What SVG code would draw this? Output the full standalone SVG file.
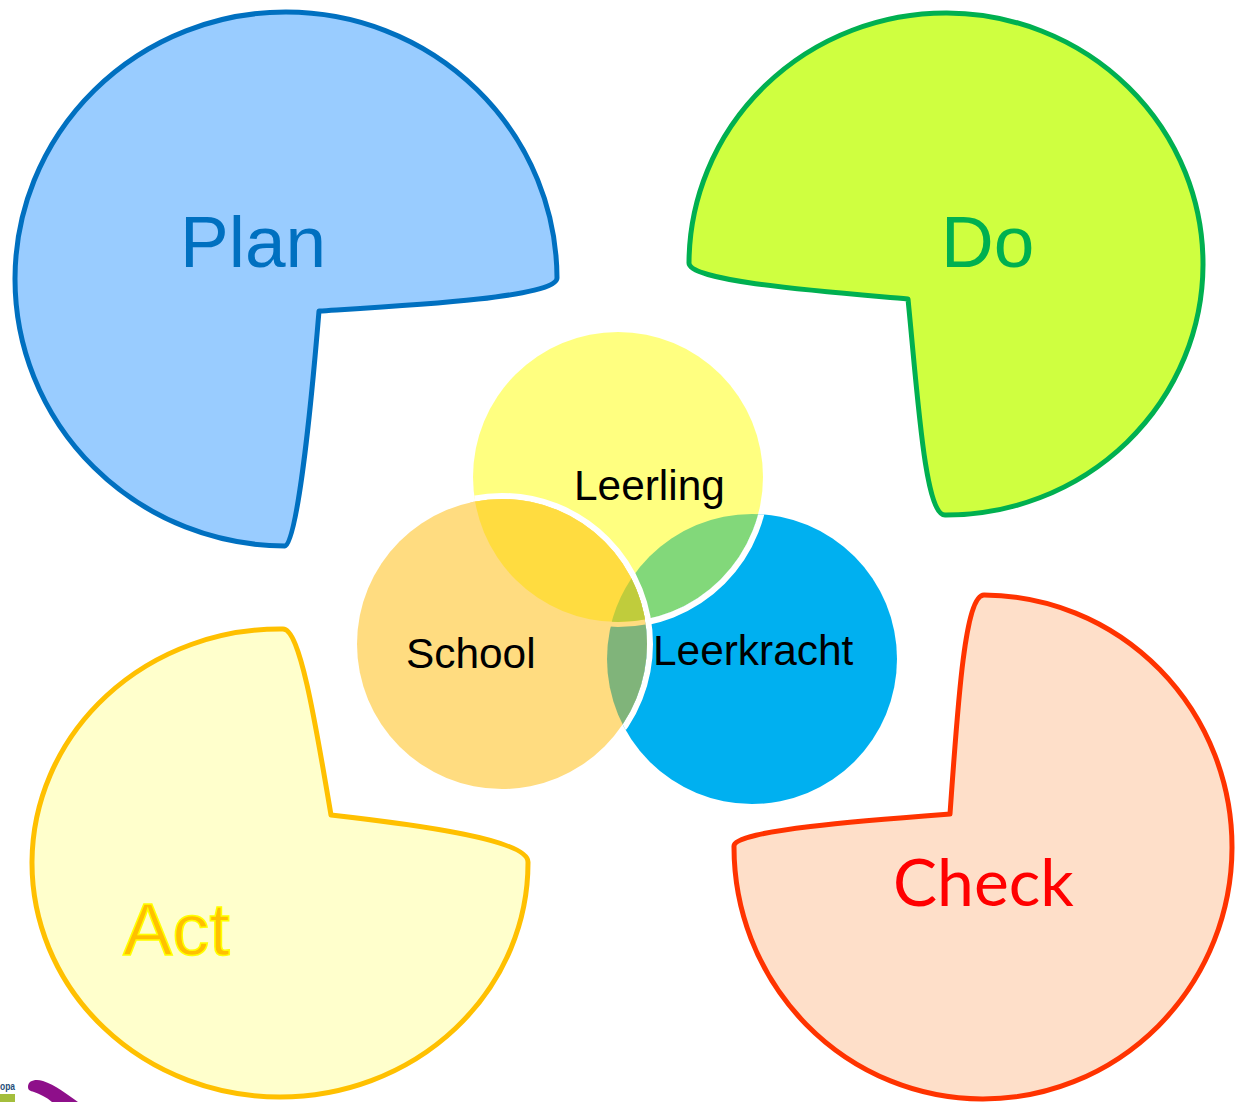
<svg xmlns="http://www.w3.org/2000/svg" width="1239" height="1102" viewBox="0 0 1239 1102">
<style>
text{font-family:"Liberation Sans",Arial,sans-serif}
.big{font-size:73px}
.mid{font-size:42.4px;fill:#000}
.pie{stroke-width:5;stroke-linejoin:round}
.w{fill:none;stroke:#fff;stroke-width:6}
</style>
<defs>
<circle id="cy" cx="618" cy="477" r="145"/>
<circle id="cs" cx="502" cy="644" r="145"/>
<circle id="cb" cx="752" cy="659" r="145"/>
<clipPath id="inY"><use href="#cy"/></clipPath>
<clipPath id="inS"><use href="#cs"/></clipPath>
<clipPath id="inB"><use href="#cb"/></clipPath>
<clipPath id="inSB" clip-path="url(#inS)"><use href="#cb"/></clipPath>
<clipPath id="inYB"><use href="#cy"/><use href="#cb"/></clipPath>
</defs>
<rect width="1239" height="1102" fill="#fff"/>
<g id="plan">
<path class="pie" fill="#99CCFF" stroke="#0070C0" d="M319 311C400 306 557 298 557 278A271 267 0 1 0 285 546C296 546 310 420 319 311Z"/>
<text class="big" x="180" y="267" fill="#0070C0">Plan</text>
</g>
<g id="do">
<path class="pie" fill="#CFFF40" stroke="#00B050" d="M908 299C830 292 689 282 689 263A257 251 0 1 1 945 515C925 515 918 400 908 299Z"/>
<text class="big" x="941" y="267" fill="#00B050">Do</text>
</g>
<g id="act">
<path class="pie" fill="#FFFFCC" stroke="#FFC000" d="M331 815C420 825 528 840 528 862A248 234 0 1 1 283 629C300 629 315 720 331 815Z"/>
<text x="123" y="955" font-size="74" fill="#FFC000" stroke="#FFFF00" stroke-width="1.5">Act</text>
</g>
<g id="check">
<path class="pie" fill="#FEDFC9" stroke="#FF3300" d="M950 814C870 820 734 830 734 846A249 252 0 1 0 984 595C965 595 958 700 950 814Z"/>
<text x="893" y="906" font-size="66" fill="#FF0000" style="font-family:Lato,'Liberation Sans',sans-serif">Check</text>
</g>
<g id="leerkracht-circle"><use href="#cb" fill="#00B0F0"/></g>
<g id="leerling-circle">
<use href="#cy" fill="#FFFF80"/>
<use href="#cb" fill="#82D87A" clip-path="url(#inY)"/>
<circle class="w" cx="618" cy="477" r="148" clip-path="url(#inB)"/>
</g>
<g id="school-circle">
<use href="#cs" fill="#FFDC80"/>
<circle class="w" cx="502" cy="644" r="148" clip-path="url(#inYB)"/>
<use href="#cb" fill="#80B47A" clip-path="url(#inS)"/>
<circle cx="618" cy="477" r="150" fill="#FFDC80" clip-path="url(#inS)"/>
<use href="#cy" fill="#FFDC40" clip-path="url(#inS)"/>
<use href="#cy" fill="#C0CC3C" clip-path="url(#inSB)"/>
</g>
<text class="mid" x="574" y="500">Leerling</text>
<text class="mid" x="406" y="668">School</text>
<text class="mid" x="653" y="665">Leerkracht</text>
<g id="logo">
<text x="0" y="1090" font-size="11" font-weight="bold" fill="#1F4E79" textLength="15" lengthAdjust="spacingAndGlyphs">opa</text>
<rect x="0" y="1094" width="15" height="8" fill="#A4BE3C"/>
<path d="M28 1087C28 1080 36 1079 43 1081C55 1085 67 1094 78 1102L52 1102C46 1097 40 1094 34 1092C30 1091 28 1090 28 1087Z" fill="#8E0F8A"/>
</g>
</svg>
